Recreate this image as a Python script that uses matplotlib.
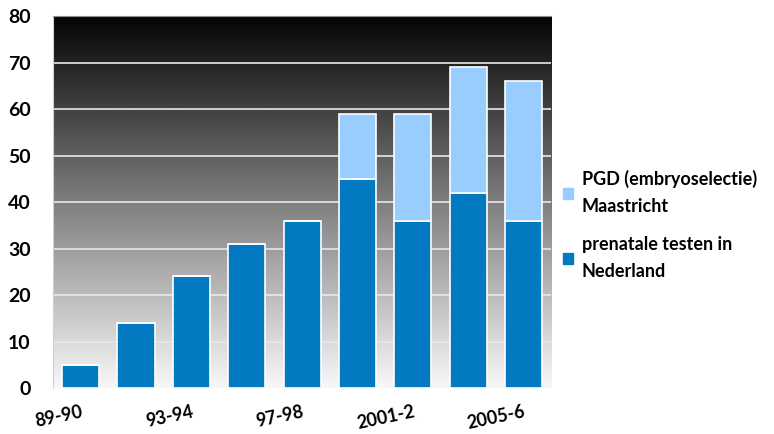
import numpy as np
from matplotlib import pyplot as plt
from matplotlib.patches import Patch

# data
periods = ['89-90', '91-92', '93-94', '95-96', '97-98', '99-2000', '2001-2', '2003-4', '2005-6']
prenatal = [5, 14, 24, 31, 36, 45, 36, 42, 36]
pgd = [0, 0, 0, 0, 0, 14, 23, 27, 30]
yticks = [0, 10, 20, 30, 40, 50, 60, 70, 80]

dark_blue = '#0279c1'
light_blue = '#99ccff'

plt.rcParams['font.family'] = ['Lato', 'DejaVu Sans']

fig = plt.figure(figsize=(7.74, 4.34), dpi=100)
ax = fig.add_axes([0.0685, 0.106, 0.6435, 0.857])

x = np.arange(len(periods))
ax.set_xlim(-0.5, len(periods) - 0.5)
ax.set_ylim(0, 80)

# black-to-white vertical gradient behind the bars
grad = np.linspace(0, 1, 256).reshape(-1, 1)
ax.imshow(grad, cmap='gray', vmin=-0.02, vmax=1.03, aspect='auto',
          extent=(-0.5, len(periods) - 0.5, 0, 80), origin='upper', zorder=0)

for y in yticks[1:-1]:
    ax.axhline(y, color='#e8e8e8', lw=1.2, zorder=1)

ax.bar(x, prenatal, width=0.67, color=dark_blue, edgecolor='white', lw=1.2, zorder=2)
ax.bar(x, pgd, width=0.67, bottom=prenatal, color=light_blue, edgecolor='white', lw=1.2, zorder=2)

ax.set_yticks(yticks)
ax.set_yticklabels([str(v) for v in yticks], fontsize=14, fontweight='bold')
ax.set_xticks(x[::2])
ax.set_xticklabels(periods[::2], fontsize=13, fontweight='bold', rotation=12,
                   ha='right', va='top', rotation_mode='anchor')
ax.tick_params(axis='y', length=0, pad=16)
ax.tick_params(axis='x', length=0, pad=11)

for s in ['right', 'bottom']:
    ax.spines[s].set_visible(False)
ax.spines['left'].set_color('#d0d0d0')
ax.spines['top'].set_color('#909090')

handles = [Patch(color=light_blue, label='PGD (embryoselectie)\nMaastricht'),
           Patch(color=dark_blue, label='prenatale testen in\nNederland')]
leg = fig.legend(handles=handles, loc='center left', bbox_to_anchor=(0.706, 0.482),
                 frameon=False, prop={'size': 13, 'weight': 'bold'},
                 handlelength=0.55, handleheight=0.55, handletextpad=0.5, labelspacing=1.15)
for t in leg.get_texts():
    t.set_linespacing(1.7)

fig.savefig('out.png', dpi=100)
